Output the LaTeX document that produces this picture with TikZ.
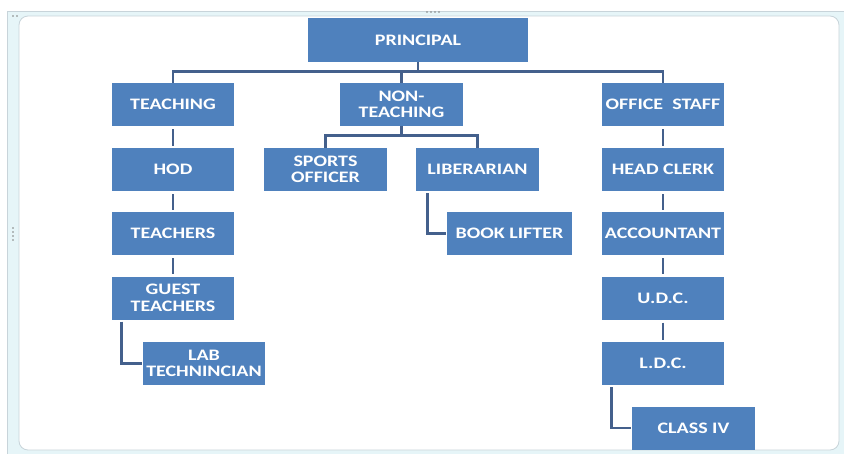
\documentclass[tikz,border=0pt]{standalone}
\usepackage{fontspec}
\setmainfont{Carlito}[FakeStretch=1.25]
\definecolor{boxblue}{RGB}{79,129,189}
\definecolor{linkblue}{RGB}{68,96,140}
\definecolor{framecyan}{RGB}{230,245,248}
\definecolor{framegray}{RGB}{200,212,218}
\begin{document}
\begin{tikzpicture}
[x=1pt, y=-1pt,
 box/.style={fill=boxblue, text=white, align=center, inner sep=1pt,
   minimum width=122pt, minimum height=43pt,
   font=\fontsize{16}{16.5}\selectfont\bfseries},
 link/.style={draw=linkblue, line width=2.8pt}]
\useasboundingbox (0,0) rectangle (844,453);
% frame
\fill[framecyan, draw=framegray, line width=0.8pt] (7,11) rectangle (850,460);
\fill[white, draw=framegray, line width=0.8pt, rounded corners=9pt] (19,16) rectangle (839,450);
\foreach \x in {427,431,435,439} \fill[gray] (\x,12) circle (0.8pt);
\foreach \y in {228,232,236,240} \fill[gray] (13,\y) circle (0.8pt);
\foreach \x in {13,17} \fill[gray] (\x,16) circle (0.9pt);
  \node[box, minimum width=220pt, minimum height=44pt] (prin) at (418,40) {PRINCIPAL};
  \node[box] (teach) at (173,104.5) {TEACHING};
  \node[box, minimum width=123pt] (nonteach) at (401.5,104.5) {NON-\\TEACHING};
  \node[box] (office) at (663,104.5) {OFFICE\ \ STAFF};
  \node[box] (hod) at (173,169.5) {HOD};
  \node[box, minimum width=123pt] (sports) at (325.5,169.5) {SPORTS\\OFFICER};
  \node[box, minimum width=123pt] (lib) at (477.5,169.5) {LIBERARIAN};
  \node[box] (clerk) at (663,169.5) {HEAD CLERK};
  \node[box] (teachers) at (173,233.5) {TEACHERS};
  \node[box, minimum width=125pt] (book) at (509.5,233.5) {BOOK LIFTER};
  \node[box] (acct) at (663,233.5) {ACCOUNTANT};
  \node[box] (guest) at (173,298) {GUEST\\TEACHERS};
  \node[box] (udc) at (663,298) {U.D.C.};
  \node[box] (lab) at (204,363.5) {LAB\\TECHNINCIAN};
  \node[box] (ldc) at (663,363.5) {L.D.C.};
  \node[box, minimum width=123pt] (class) at (693.5,428) {CLASS IV};
  % tree links
  \draw[link] (prin.south) -- ++(0,10);
  \draw[link] (teach.north) -- ++(0,-11) -| (office.north);
  \draw[link] (nonteach.north) -- ++(0,-11);
  \draw[link] (nonteach.south) -- ++(0,10);
  \draw[link] (sports.north) -- ++(0,-12) -| (lib.north);
  \foreach \from/\to in {teach/hod,hod/teachers,teachers/guest,office/clerk,clerk/acct,acct/udc,udc/ldc}
  \draw[link, shorten <=3pt, shorten >=2pt] (\from) -- (\to);
  \draw[link] ([xshift=10pt,yshift=-2pt]guest.south west) |- ([xshift=-1pt]lab.west);
  \draw[link] ([xshift=12pt,yshift=-2pt]lib.south west) |- ([xshift=-1pt]book.west);
  \draw[link] ([xshift=10pt,yshift=-2pt]ldc.south west) |- ([xshift=-1pt]class.west);
\end{tikzpicture}
\end{document}
